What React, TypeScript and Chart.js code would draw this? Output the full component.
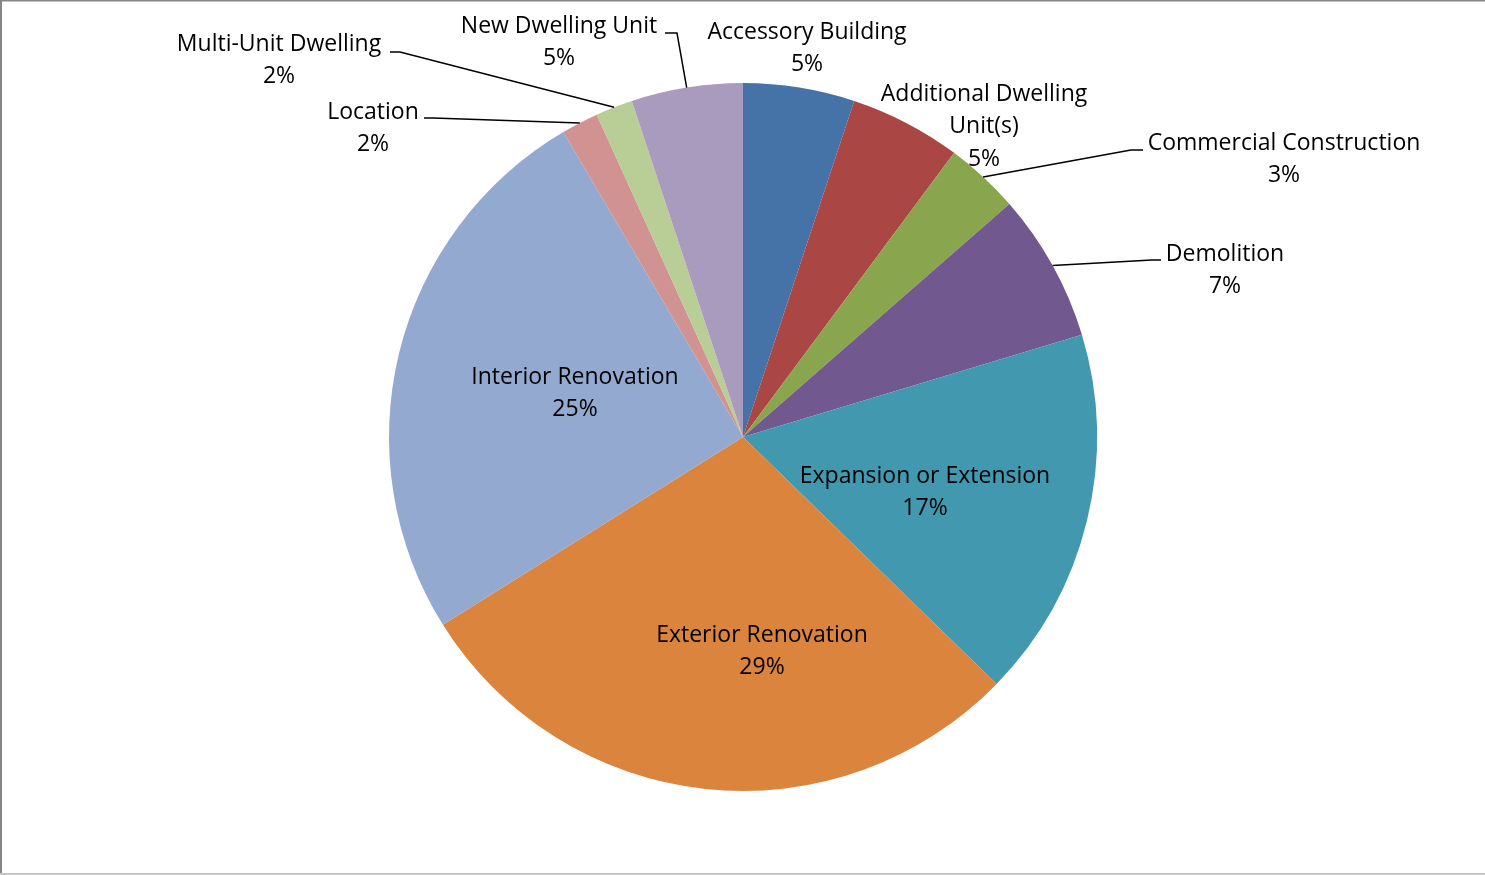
import React, { useEffect, useRef } from "react";
import { Chart, registerables } from "chart.js";

Chart.register(...registerables);

const categories: string[] = [
  "Accessory Building",
  "Additional Dwelling Unit(s)",
  "Commercial Construction",
  "Demolition",
  "Expansion or Extension",
  "Exterior Renovation",
  "Interior Renovation",
  "Location",
  "Multi-Unit Dwelling",
  "New Dwelling Unit",
];

const counts: number[] = [3, 3, 2, 4, 10, 17, 15, 1, 1, 3];

const colors: string[] = [
  "#4572A7",
  "#AA4643",
  "#89A54E",
  "#71588F",
  "#4198AF",
  "#DB843D",
  "#93A9CF",
  "#D19392",
  "#B9CD96",
  "#A99BBD",
];

// Label layout: offsets (px) from pie centre for the first text line centre,
// plus optional leader line elbow/end offsets.
type LabelLayout = {
  lines?: string[];
  dx: number;
  dy: number;
  elbow?: [number, number];
  end?: [number, number];
};

const labelLayout: LabelLayout[] = [
  { dx: 64, dy: -405 },
  { lines: ["Additional Dwelling", "Unit(s)"], dx: 241, dy: -343 },
  { dx: 541, dy: -294, elbow: [388, -287], end: [400, -287] },
  { dx: 482, dy: -183, elbow: [409, -177], end: [418, -177] },
  { dx: 182, dy: 39 },
  { dx: 19, dy: 198 },
  { dx: -168, dy: -60 },
  { dx: -370, dy: -325, elbow: [-310, -319], end: [-319, -319] },
  { dx: -464, dy: -393, elbow: [-343, -385], end: [-353, -385] },
  { dx: -184, dy: -411, elbow: [-66, -404], end: [-78, -404] },
];

const FONT = "23px 'Open Sans', 'Noto Sans', sans-serif";
const LINE_H = 32.5;

const framePlugin = {
  id: "frame",
  beforeDraw(chart: any) {
    const ctx = chart.ctx;
    const w = chart.width;
    const h = chart.height;
    ctx.save();
    ctx.fillStyle = "#ffffff";
    ctx.fillRect(0, 0, w, h);
    ctx.fillStyle = "#868686";
    ctx.fillRect(0, 0, w, 1.5);
    ctx.fillRect(0, 0, 2, h);
    ctx.fillStyle = "#c6c6c6";
    ctx.fillRect(0, h - 2, w, 2);
    ctx.restore();
  },
};

const labelPlugin = {
  id: "pieLabels",
  afterDatasetsDraw(chart: any) {
    const ctx = chart.ctx;
    const meta = chart.getDatasetMeta(0);
    const data: number[] = chart.data.datasets[0].data;
    const total = data.reduce((a, b) => a + b, 0);
    ctx.save();
    ctx.font = FONT;
    ctx.fillStyle = "#000000";
    ctx.textAlign = "center";
    ctx.textBaseline = "middle";
    meta.data.forEach((arc: any, i: number) => {
      const { x, y, startAngle, endAngle, outerRadius } = arc.getProps(
        ["x", "y", "startAngle", "endAngle", "outerRadius"],
        true
      );
      const lay = labelLayout[i];
      const pct = Math.round((data[i] / total) * 100) + "%";
      const lines = [...(lay.lines || [categories[i]]), pct];
      lines.forEach((t, k) => {
        ctx.fillText(t, x + lay.dx, y + lay.dy + k * LINE_H);
      });
      if (lay.elbow && lay.end) {
        const mid = (startAngle + endAngle) / 2;
        const ex = x + outerRadius * Math.cos(mid);
        const ey = y + outerRadius * Math.sin(mid);
        ctx.beginPath();
        ctx.strokeStyle = "#000000";
        ctx.lineWidth = 1.5;
        ctx.moveTo(ex, ey);
        ctx.lineTo(x + lay.elbow[0], y + lay.elbow[1]);
        ctx.lineTo(x + lay.end[0], y + lay.end[1]);
        ctx.stroke();
      }
    });
    ctx.restore();
  },
};

export default function App() {
  const ref = useRef<HTMLCanvasElement | null>(null);
  useEffect(() => {
    document.body.style.margin = "0";
    if (!ref.current) return;
    const chart = new Chart(ref.current, {
      type: "pie",
      data: {
        labels: categories,
        datasets: [
          {
            data: counts,
            backgroundColor: colors,
            borderWidth: 0,
          },
        ],
      },
      options: {
        responsive: false,
        animation: false,
        layout: { padding: { top: 83, bottom: 84, left: 1, right: 0 } },
        plugins: {
          legend: { display: false },
          tooltip: { enabled: false },
          title: { display: false },
        },
      },
      plugins: [framePlugin, labelPlugin],
    });
    return () => chart.destroy();
  }, []);
  return (
    <canvas
      ref={ref}
      width={1485}
      height={875}
      style={{ display: "block", width: 1485, height: 875 }}
    />
  );
}
